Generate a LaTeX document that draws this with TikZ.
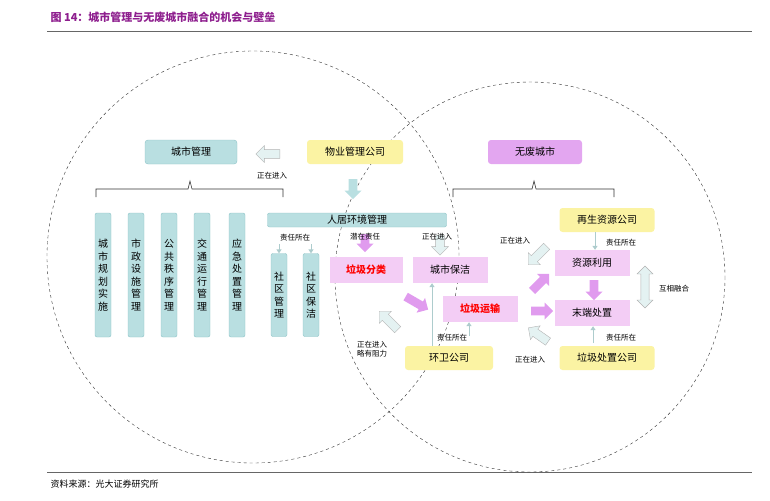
\documentclass[tikz,border=0pt]{standalone}
\usepackage{fontspec}
\setmainfont{Noto Sans CJK SC}
\usetikzlibrary{shapes.arrows,arrows.meta}
\definecolor{teal1}{HTML}{B9DFE1}
\definecolor{tealline}{HTML}{8CC3C6}
\definecolor{pink1}{HTML}{F3CDF5}
\definecolor{pink2}{HTML}{E3A6F0}
\definecolor{pinkarr}{HTML}{E09BEE}
\definecolor{yel1}{HTML}{FBF3A3}
\definecolor{hollow}{HTML}{E4F2F2}
\definecolor{titlec}{HTML}{8E1F8E}
\tikzset{
  box/.style={draw=none, rounded corners=3pt, minimum width=#1, minimum height=24pt, inner sep=0pt, font=\fontsize{10}{12}\selectfont},
  tealbox/.style={box=#1, fill=teal1, draw=tealline},
  yelbox/.style={box=#1, fill=yel1},
  pinkbox/.style={box=#1, fill=pink1, rounded corners=0pt, minimum height=26pt},
  col/.style={fill=teal1, draw=tealline, rounded corners=2pt, minimum width=16pt, minimum height=#1, inner sep=0pt, font=\fontsize{10}{12.5}\selectfont, align=center},
  lbl/.style={font=\fontsize{7.5}{9}\selectfont, inner sep=1pt, align=center},
  fat/.style={single arrow, single arrow head extend=3.5pt, single arrow head indent=0pt, minimum height=#1, minimum width=17pt, inner sep=3.5pt, draw=none},
  pinkarrow/.style={fat=#1, fill=pinkarr},
  tealarrow/.style={fat=#1, fill=teal1},
  hollowarrow/.style={fat=#1, fill=hollow, draw=gray!60},
  thin/.style={-{Triangle[length=4pt,width=5pt]}, draw=teal1!80!gray, line width=1pt},
  brace/.style={draw=black!80, line width=0.6pt}
}
\begin{document}
\begin{tikzpicture}[x=1pt,y=-1pt]
\useasboundingbox (0,0) rectangle (770,500);
% title and rules
\node[anchor=west, font=\bfseries\fontsize{11}{13}\selectfont, text=titlec] (title) at (47,17) {图 14：城市管理与无废城市融合的机会与壁垒};
\draw[black!60, line width=0.8pt] (47,31) -- (752,31);
\draw[black!60, line width=0.8pt] (47,472) -- (752,472);
\node[anchor=west, font=\fontsize{9}{10}\selectfont] (src) at (47,484) {资料来源：光大证券研究所};
% circles
\draw[dashed, black!80] (253,257) circle (206);
\draw[dashed, black!80] (530,277) circle (195);
% left side
\node[tealbox=92pt] (city) at (191,152) {城市管理};
\node[yelbox=96pt] (prop) at (355,152) {物业管理公司};
\node[hollowarrow=24pt, rotate=180] (a1) at (270,154) {};
\node[lbl] (t1) at (272,176) {正在进入};
\node[tealarrow=20pt, rotate=-90] (a2) at (353,187) {};
\draw[brace] (96,197) -- (96,189) -- (188,189) -- (190,181) -- (192,189) -- (283,189) -- (283,197);
\node[col=124pt] (c1) at (103,275) {城\\市\\规\\划\\实\\施};
\node[col=124pt] (c2) at (136,275) {市\\政\\设\\施\\管\\理};
\node[col=124pt] (c3) at (169,275) {公\\共\\秩\\序\\管\\理};
\node[col=124pt] (c4) at (202,275) {交\\通\\运\\行\\管\\理};
\node[col=124pt] (c5) at (237,275) {应\\急\\处\\置\\管\\理};
\node[fill=teal1, draw=tealline, rounded corners=2pt, minimum width=179pt, minimum height=14pt, inner sep=0pt, font=\fontsize{10}{12}\selectfont] (env) at (357,220) {人居环境管理};
\node[lbl] (t2) at (295,238) {责任所在};
\node[col=83pt] (s1) at (279,295) {社\\区\\管\\理};
\node[col=83pt] (s2) at (311,295) {社\\区\\保\\洁};
\coordinate (s1t) at (279,244); \coordinate (s2t) at (311,244);
\draw[thin] (s1t) -- (s1.north);
\draw[thin] (s2t) -- (s2.north);
\node[pinkarrow=18pt, rotate=-90] (a3) at (365,241) {};
\node[lbl] (t3) at (365,237) {潜在责任};
\node[hollowarrow=20pt, rotate=-90] (a4) at (440,243) {};
\node[lbl] (t4) at (437,237) {正在进入};
\node[pinkbox=73pt, text=red, font=\fontsize{10}{12}\selectfont\bfseries] (sort) at (366,270) {垃圾分类};
\node[pinkbox=75pt] (clean) at (450,270) {城市保洁};
\node[pinkarrow=26pt, rotate=-30] (a5) at (415,302) {};
\node[pinkbox=75pt, text=red, font=\fontsize{10}{12}\selectfont\bfseries] (trans) at (480,309) {垃圾运输};
\node[yelbox=88pt] (san) at (449,358) {环卫公司};
\coordinate (sanl) at (432,346); \coordinate (sanr) at (469,336);
\draw[thin] (sanl) -- (clean.south -| sanl);
\draw[thin] (sanr) -- (trans.south -| sanr);
\node[lbl] (t5) at (452,338) {责任所在};
\node[hollowarrow=26pt, rotate=135] (a6) at (390,322) {};
\node[lbl] (t6) at (372,349) {正在进入\\略有阻力};
% right side
\node[box=94pt, fill=pink2] (zw) at (535,152) {无废城市};
\draw[brace] (453,197) -- (453,189) -- (532,189) -- (534,181) -- (536,189) -- (614,189) -- (614,197);
\node[yelbox=95pt] (rec) at (607,220) {再生资源公司};
\node[pinkbox=75pt] (res) at (592,263) {资源利用};
\node[pinkbox=75pt] (end) at (592,313) {末端处置};
\node[yelbox=95pt] (disp) at (607,358) {垃圾处置公司};
\coordinate (rect) at (595,232); \coordinate (dispt) at (593,343);
\draw[thin] (rect) -- (res.north -| rect);
\draw[thin] (dispt) -- (end.south -| dispt);
\node[lbl] (t7) at (621,243) {责任所在};
\node[lbl] (t8) at (621,338) {责任所在};
\node[pinkarrow=20pt, rotate=-90] (a7) at (594,288) {};
\node[pinkarrow=24pt, rotate=45] (a8) at (539,284) {};
\node[pinkarrow=22pt] (a9) at (540,311) {};
\node[hollowarrow=26pt, rotate=-135] (a10) at (539,254) {};
\node[lbl] (t9) at (515,241) {正在进入};
\node[hollowarrow=24pt, rotate=145] (a11) at (540,336) {};
\node[lbl] (t10) at (530,360) {正在进入};
\node[double arrow, double arrow head extend=3pt, minimum height=42pt, minimum width=16pt, inner sep=3pt, fill=hollow, draw=gray!60, rotate=90] (a12) at (645,287) {};
\node[lbl] (t11) at (674,289) {互相融合};
\end{tikzpicture}
\end{document}
